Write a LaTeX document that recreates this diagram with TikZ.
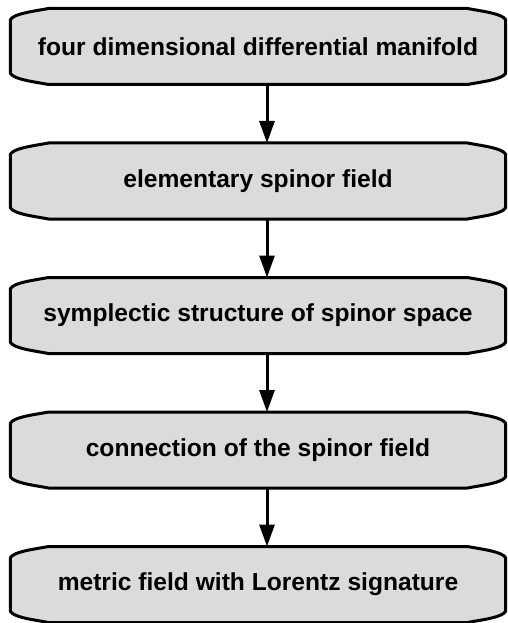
\documentclass[tikz,border=0pt]{standalone}
\usepackage{fontspec}
\setmainfont{Liberation Sans}
\usepackage{tikz}
\usetikzlibrary{positioning, arrows.meta, backgrounds}
\definecolor{boxgray}{gray}{0.86}
\tikzstyle{stage} = [rectangle, minimum width=495pt, minimum height=76pt, inner sep=0pt, outer sep=0pt, text centered, font=\bfseries\fontsize{24.6}{29}\selectfont]
\tikzstyle{outline} = [draw=black, fill=boxgray, line width=3pt, line join=round]
\tikzstyle{arrow} = [line width=3pt, -{Triangle[length=22pt, width=15pt]}]

\begin{document}
\begin{tikzpicture}[node distance=58.5pt]

  \useasboundingbox (-258pt,46.5pt) rectangle (250pt,-576.5pt);

  \node (manifold) [stage] {four dimensional differential manifold};
  \node (spinor) [stage, below=of manifold] {elementary spinor field};
  \node (symplectic) [stage, below=of spinor] {symplectic structure of spinor space};
  \node (connection) [stage, below=of symplectic] {connection of the spinor field};
  \node (metric) [stage, below=of connection] {metric field with Lorentz signature};

  % box outlines with bent corners
  \begin{scope}[on background layer]
    \foreach \n in {manifold,spinor,symplectic,connection,metric}
      \draw [outline] ([xshift=38pt]\n.north west) -- ([xshift=-38pt]\n.north east)
        .. controls ([xshift=-22pt,yshift=-3pt]\n.north east) and ([xshift=-4pt,yshift=-5pt]\n.north east) .. ([yshift=-11pt]\n.north east)
        -- ([yshift=11pt]\n.south east)
        .. controls ([xshift=-4pt,yshift=5pt]\n.south east) and ([xshift=-22pt,yshift=3pt]\n.south east) .. ([xshift=-38pt]\n.south east)
        -- ([xshift=38pt]\n.south west)
        .. controls ([xshift=22pt,yshift=3pt]\n.south west) and ([xshift=4pt,yshift=5pt]\n.south west) .. ([yshift=11pt]\n.south west)
        -- ([yshift=-11pt]\n.north west)
        .. controls ([xshift=4pt,yshift=-5pt]\n.north west) and ([xshift=22pt,yshift=-3pt]\n.north west) .. cycle;
  \end{scope}

  \draw [arrow] ([xshift=9pt]manifold.south) -- ([xshift=9pt]spinor.north);
  \draw [arrow] ([xshift=9pt]spinor.south) -- ([xshift=9pt]symplectic.north);
  \draw [arrow] ([xshift=9pt]symplectic.south) -- ([xshift=9pt]connection.north);
  \draw [arrow] ([xshift=9pt]connection.south) -- ([xshift=9pt]metric.north);

\end{tikzpicture}
\end{document}
